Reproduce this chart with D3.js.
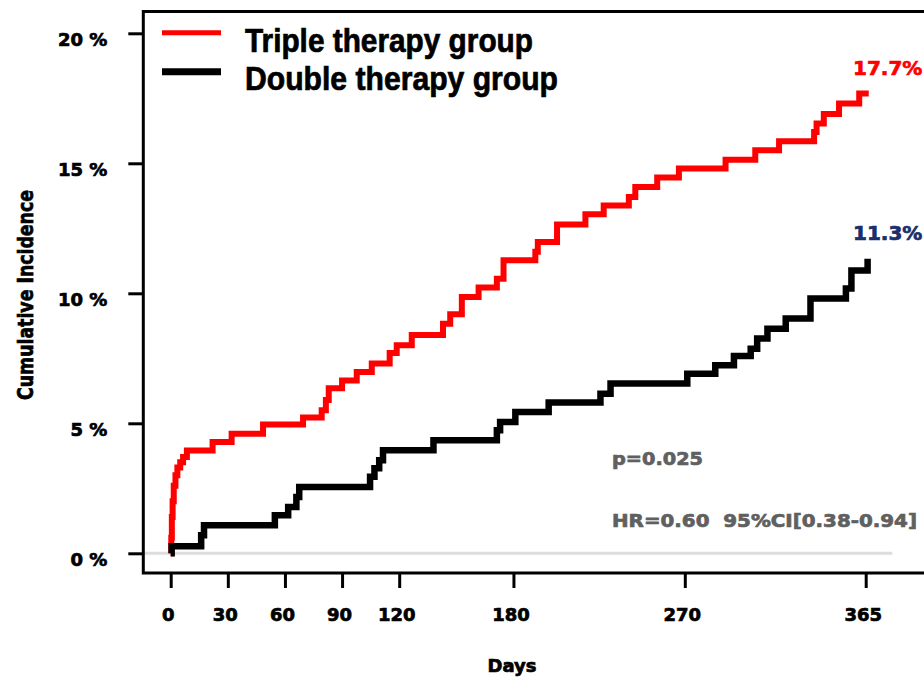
<!DOCTYPE html>
<html>
<head>
<meta charset="utf-8">
<script src="https://cdn.jsdelivr.net/npm/d3@7"></script>
<style>
  body { margin: 0; background: #fff; }
  text { font-family: "DejaVu Sans", sans-serif; font-weight: bold; white-space: pre; }
</style>
</head>
<body>
<svg id="chart" width="924" height="680"></svg>
<script>
// cumulative incidence (%) step points: [day, value]
const tripleSteps = [
  [0, 0], [0.3, 0.6], [0.6, 1.4], [1, 2.0], [1.6, 2.6], [2.5, 3.0], [3.5, 3.3], [5, 3.5],
  [6.5, 3.7], [8.5, 3.95], [22, 4.28], [32, 4.6], [48.5, 4.95], [69.5, 5.22], [79.3, 5.5],
  [81.5, 5.9], [83, 6.35], [90, 6.65], [97.7, 6.97], [105.6, 7.3], [115, 7.7], [118.7, 8.0],
  [126.6, 8.4], [143, 8.83], [146.8, 9.19], [152.9, 9.86], [161.7, 10.22], [171.3, 10.56],
  [174.8, 11.27], [191.5, 11.6], [192.8, 11.97], [202.9, 12.65], [217.8, 13.04], [227.4, 13.38],
  [240.6, 13.7], [244, 14.09], [255.5, 14.45], [266.9, 14.8], [291.4, 15.14], [307, 15.5],
  [319.5, 15.85], [337.9, 16.2], [339.2, 16.53], [343, 16.9], [351, 17.3], [361.6, 17.68],
  [366.6, 17.68]
];
const doubleSteps = [
  [0, 0], [0.5, 0.27], [16, 0.69], [17.5, 1.08], [54.7, 1.46], [61.7, 1.78], [66, 2.17],
  [67.5, 2.55], [104.7, 2.94], [107, 3.27], [109.5, 3.58], [111.5, 3.96], [138, 4.35],
  [171.3, 4.73], [173, 5.05], [181, 5.43], [198.5, 5.8], [225.7, 6.14], [231, 6.53],
  [271.3, 6.91], [286, 7.23], [295.8, 7.59], [304.6, 7.87], [308, 8.26], [313.4, 8.64],
  [323, 9.03], [336, 9.8], [354.6, 10.18], [357.5, 10.88], [366, 11.33]
];
const seriesNames = ["Triple therapy group", "Double therapy group"];
const seriesColors = ["#ff0000", "#000000"];
const endLabels = ["17.7%", "11.3%"];
const xTicks = [0, 30, 60, 90, 120, 180, 270, 365];
const yTicks = [0, 5, 10, 15, 20];
const pText = "p=0.025";
const hrText = "HR=0.60  95%CI[0.38-0.94]";

const svg = d3.select("#chart");
const frame = { left: 143.3, top: 11.5, bottom: 573, right: 940 };

const x = d3.scaleLinear().domain([0, 365]).range([170.7, 865.7]);
const y = d3.scaleLinear().domain([0, 20]).range([553.3, 33.3]);

// heavier look of the original lettering
const heavy = (sel, color) => sel.attr("stroke", color).attr("stroke-width", 0.7).attr("fill", color);

// zero reference line
svg.append("line")
  .attr("x1", frame.left).attr("x2", x(379))
  .attr("y1", y(0)).attr("y2", y(0))
  .attr("stroke", "#dddddd").attr("stroke-width", 3);

// frame
svg.append("rect")
  .attr("x", frame.left).attr("y", frame.top)
  .attr("width", frame.right - frame.left).attr("height", frame.bottom - frame.top)
  .attr("fill", "none").attr("stroke", "#000").attr("stroke-width", 3);

// y axis
const yAxis = svg.append("g")
  .attr("transform", `translate(${frame.left},0)`)
  .call(d3.axisLeft(y).tickValues(yTicks).tickFormat(d => d + " %").tickSize(15).tickPadding(21));
yAxis.select(".domain").remove();
yAxis.selectAll("line").attr("stroke-width", 3);
yAxis.selectAll("text")
  .attr("dy", "0.66em")
  .style("font-size", "18px").style("font-family", "DejaVu Sans").style("font-weight", "bold")
  .call(heavy, "#000");

// x axis
const xAxis = svg.append("g")
  .attr("transform", `translate(0,${frame.bottom})`)
  .call(d3.axisBottom(x).tickValues(xTicks).tickSize(15).tickPadding(20));
xAxis.select(".domain").remove();
xAxis.selectAll("line").attr("stroke-width", 3);
xAxis.selectAll("text")
  .attr("dx", -3)
  .style("font-size", "18px").style("font-family", "DejaVu Sans").style("font-weight", "bold")
  .call(heavy, "#000");

// axis titles
svg.append("text")
  .text("Days")
  .attr("x", 512).attr("y", 672)
  .attr("text-anchor", "middle")
  .style("font-size", "18px")
  .call(heavy, "#000");
svg.append("text")
  .text("Cumulative Incidence")
  .attr("transform", "translate(33,295) rotate(-90)")
  .attr("text-anchor", "middle")
  .attr("textLength", 210).attr("lengthAdjust", "spacingAndGlyphs")
  .style("font-size", "22px")
  .call(heavy, "#000");

// step curves
const line = d3.line()
  .x(d => x(d[0]))
  .y(d => y(d[1]))
  .curve(d3.curveStepAfter);
[tripleSteps, doubleSteps].forEach((steps, i) => {
  svg.append("path")
    .datum(steps)
    .attr("d", line)
    .attr("fill", "none")
    .attr("stroke", seriesColors[i])
    .attr("stroke-width", i === 0 ? 6 : 6.5);
});

// end labels
svg.append("text").text(endLabels[0])
  .attr("x", 853).attr("y", 75)
  .style("font-size", "20px")
  .call(heavy, "#ff0000");
svg.append("text").text(endLabels[1])
  .attr("x", 853).attr("y", 240)
  .style("font-size", "20px")
  .call(heavy, "#1a2f6b");

// statistics
svg.append("text").text(pText)
  .attr("x", 612).attr("y", 465)
  .attr("textLength", 91).attr("lengthAdjust", "spacingAndGlyphs")
  .style("font-size", "18px")
  .call(heavy, "#606060");
svg.append("text").text(hrText)
  .attr("x", 612).attr("y", 527)
  .attr("textLength", 305).attr("lengthAdjust", "spacingAndGlyphs")
  .style("font-size", "18px")
  .call(heavy, "#606060");

// legend
const legendY = [32.7, 71.7];
const legendBase = [52, 90];
const legendLen = [288, 313];
seriesNames.forEach((name, i) => {
  svg.append("line")
    .attr("x1", 162).attr("x2", 221)
    .attr("y1", legendY[i]).attr("y2", legendY[i])
    .attr("stroke", seriesColors[i]).attr("stroke-width", i === 0 ? 5 : 7);
  svg.append("text").text(name)
    .attr("x", 245).attr("y", legendBase[i])
    .attr("textLength", legendLen[i]).attr("lengthAdjust", "spacingAndGlyphs")
    .style("font-family", "'Liberation Sans', Arial, sans-serif")
    .style("font-size", "33px")
    .call(heavy, "#000");
});
</script>
</body>
</html>
